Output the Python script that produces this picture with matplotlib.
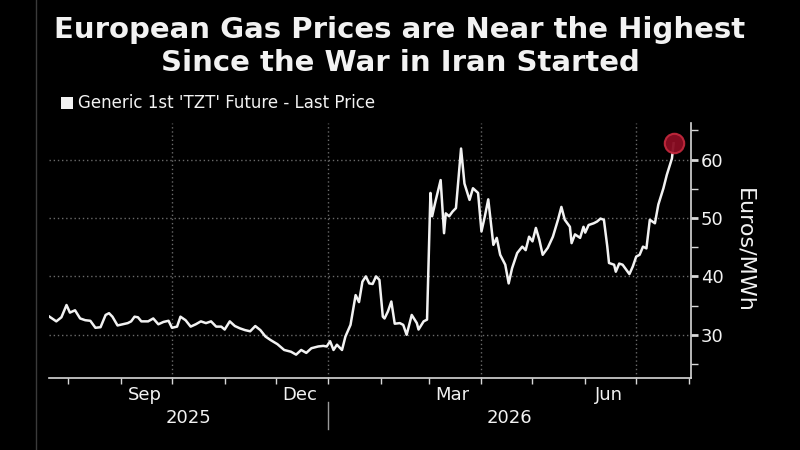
import matplotlib
matplotlib.use("Agg")
import matplotlib.pyplot as plt
import matplotlib.dates as mdates
import pandas as pd
from matplotlib.lines import Line2D

# ---- data ----
dates = [
    "2025-07-21", "2025-07-25", "2025-07-28", "2025-07-31", "2025-08-02", "2025-08-05",
    "2025-08-08", "2025-08-11", "2025-08-14", "2025-08-17", "2025-08-20", "2025-08-23",
    "2025-08-25", "2025-08-27", "2025-08-30", "2025-09-02", "2025-09-05", "2025-09-07",
    "2025-09-09", "2025-09-11", "2025-09-13", "2025-09-17", "2025-09-20", "2025-09-23",
    "2025-09-26", "2025-09-29", "2025-10-01", "2025-10-04", "2025-10-06", "2025-10-09",
    "2025-10-12", "2025-10-15", "2025-10-18", "2025-10-21", "2025-10-24", "2025-10-27",
    "2025-10-30", "2025-11-01", "2025-11-04", "2025-11-07", "2025-11-10", "2025-11-13",
    "2025-11-16", "2025-11-19", "2025-11-22", "2025-11-25", "2025-11-28", "2025-12-02",
    "2025-12-06", "2025-12-10", "2025-12-13", "2025-12-16", "2025-12-19", "2025-12-22",
    "2025-12-26", "2025-12-29", "2025-12-31", "2026-01-02", "2026-01-04", "2026-01-06",
    "2026-01-09", "2026-01-11", "2026-01-14", "2026-01-17", "2026-01-19", "2026-01-21",
    "2026-01-23", "2026-01-25", "2026-01-27", "2026-01-29", "2026-01-31", "2026-02-02",
    "2026-02-03", "2026-02-05", "2026-02-07", "2026-02-09", "2026-02-12", "2026-02-14",
    "2026-02-16", "2026-02-19", "2026-02-22", "2026-02-23", "2026-02-26", "2026-02-28",
    "2026-03-02", "2026-03-03", "2026-03-05", "2026-03-08", "2026-03-10", "2026-03-11",
    "2026-03-13", "2026-03-15", "2026-03-17", "2026-03-20", "2026-03-22", "2026-03-25",
    "2026-03-27", "2026-03-30", "2026-04-01", "2026-04-03", "2026-04-05", "2026-04-08",
    "2026-04-10", "2026-04-12", "2026-04-15", "2026-04-17", "2026-04-19", "2026-04-22",
    "2026-04-25", "2026-04-27", "2026-04-29", "2026-05-01", "2026-05-03", "2026-05-05",
    "2026-05-07", "2026-05-10", "2026-05-13", "2026-05-16", "2026-05-18", "2026-05-20",
    "2026-05-23", "2026-05-24", "2026-05-26", "2026-05-29", "2026-05-31", "2026-06-01",
    "2026-06-03", "2026-06-06", "2026-06-08", "2026-06-10", "2026-06-12", "2026-06-14",
    "2026-06-15", "2026-06-18", "2026-06-19", "2026-06-21", "2026-06-23", "2026-06-25",
    "2026-06-27", "2026-06-29", "2026-07-01", "2026-07-03", "2026-07-05", "2026-07-07",
    "2026-07-09", "2026-07-12", "2026-07-14", "2026-07-17", "2026-07-19", "2026-07-22",
    "2026-07-23",
]
prices = [
    33.1, 32.3, 33.0, 35.1, 33.8, 34.2,
    32.8, 32.5, 32.4, 31.2, 31.3, 33.4,
    33.7, 33.1, 31.6, 31.8, 32.0, 32.3,
    33.1, 33.0, 32.3, 32.3, 32.8, 31.8,
    32.2, 32.4, 31.2, 31.4, 33.1, 32.5,
    31.4, 31.8, 32.3, 32.0, 32.3, 31.4,
    31.4, 30.9, 32.3, 31.5, 31.1, 30.8,
    30.6, 31.5, 30.8, 29.7, 29.1, 28.4,
    27.4, 27.1, 26.6, 27.4, 26.9, 27.7,
    28.0, 28.1, 28.0, 28.9, 27.4, 28.3,
    27.4, 29.7, 31.7, 36.8, 35.6, 39.1,
    40.0, 38.8, 38.7, 40.0, 39.4, 33.1,
    32.8, 34.0, 35.7, 31.9, 32.0, 31.7,
    30.0, 33.4, 32.0, 30.9, 32.3, 32.6,
    54.3, 50.3, 52.9, 56.5, 47.4, 50.8,
    50.3, 51.1, 51.7, 61.9, 55.9, 53.1,
    55.1, 54.3, 47.7, 50.3, 53.2, 45.4,
    46.6, 43.7, 42.0, 38.8, 41.4, 44.0,
    45.1, 44.5, 46.8, 46.0, 48.3, 46.3,
    43.7, 44.9, 46.8, 49.7, 51.9, 49.7,
    48.5, 45.7, 47.2, 46.6, 48.5, 47.5,
    48.8, 49.1, 49.4, 49.9, 49.7, 45.1,
    42.3, 42.0, 40.8, 42.2, 42.0, 41.2,
    40.4, 41.7, 43.4, 43.7, 45.1, 44.8,
    49.7, 49.1, 52.3, 55.1, 57.4, 60.2,
    62.8,
]
month_labels = ["Sep", "Dec", "Mar", "Jun"]
month_label_dates = ["2025-09-15", "2025-12-15", "2026-03-15", "2026-06-15"]
year_labels = ["2025", "2026"]
y_ticks = [30, 40, 50, 60]
title = "European Gas Prices are Near the Highest\nSince the War in Iran Started"
legend_label = "Generic 1st 'TZT' Future - Last Price"
y_label = "Euros/MWh"

x = pd.to_datetime(dates)
fg = "#f2f2f2"
grid_c = "#6a6a6a"

fig = plt.figure(figsize=(8, 4.5), dpi=100, facecolor="black")
ax = fig.add_axes([0.061, 0.16, 0.803, 0.567])
ax.set_facecolor("black")

ax.plot(x, prices, color=fg, lw=1.8, solid_joinstyle="round", zorder=3)
ax.plot(x[-1:], prices[-1:], "o", ms=14, mfc="#8a0c22", mec="#c0283c",
        mew=1.5, alpha=0.95, zorder=4)

xmin = pd.Timestamp("2025-07-20 14:00")
xmax = pd.Timestamp("2026-08-02 08:00")
ax.set_xlim(xmin, xmax)
ax.set_ylim(22.6, 66.3)

# spines
for s in ["left", "top"]:
    ax.spines[s].set_visible(False)
for s in ["right", "bottom"]:
    ax.spines[s].set_color("#d8d8d8")
    ax.spines[s].set_linewidth(1.2)

# y axis
ax.yaxis.tick_right()
ax.set_yticks(y_ticks)
ax.set_yticks([25, 35, 45, 55, 65], minor=True)
ax.tick_params(axis="y", which="major", colors="#d8d8d8", length=5, width=2,
               labelsize=13, labelcolor=fg, pad=2)
ax.tick_params(axis="y", which="minor", colors="#d8d8d8", length=5, width=1)
ax.yaxis.set_label_position("right")
ax.set_ylabel(y_label, color=fg, fontsize=16, rotation=270, labelpad=22)

# x axis
ax.xaxis.set_major_locator(mdates.MonthLocator())
ax.xaxis.set_major_formatter(plt.NullFormatter())
ax.set_xticks(pd.to_datetime(month_label_dates), minor=True)
ax.set_xticklabels(month_labels, minor=True)
ax.tick_params(axis="x", which="major", colors="#d8d8d8", length=4, width=1)
ax.tick_params(axis="x", which="minor", length=0, labelsize=13,
               labelcolor=fg, pad=6)

# grid
ax.grid(axis="y", which="major", color=grid_c, ls=(0, (1, 2)), lw=1)
qgrid = pd.to_datetime(["2025-10-01", "2026-01-01", "2026-04-01", "2026-07-01"])
for q in qgrid:
    ax.axvline(q, color=grid_c, ls=(0, (1, 2)), lw=1, zorder=1)

# year labels
trans = ax.get_xaxis_transform()
y2026 = pd.Timestamp("2026-01-01")
mid25 = xmin + (y2026 - xmin) / 2
mid26 = y2026 + (xmax - y2026) / 2
ax.text(mid25, -0.155, year_labels[0], transform=trans, ha="center", va="center",
        color=fg, fontsize=13)
ax.text(mid26, -0.155, year_labels[1], transform=trans, ha="center", va="center",
        color=fg, fontsize=13)
ax.add_line(Line2D([y2026, y2026], [-0.095, -0.2], transform=trans,
                   color="#9a9a9a", lw=1, clip_on=False))

# title and legend
fig.text(0.5, 0.897, title, ha="center", va="center", color=fg, fontsize=21,
         fontweight="bold", linespacing=1.2)
fig.patches.append(plt.Rectangle((0.076, 0.757), 0.015, 0.027, transform=fig.transFigure,
                                 facecolor=fg, edgecolor="none"))
fig.text(0.097, 0.771, legend_label, ha="left", va="center", color=fg, fontsize=12)

# screen edge line
fig.add_artist(Line2D([0.045, 0.045], [0, 1], transform=fig.transFigure,
                      color="#3a3a3a", lw=1))

fig.savefig("out.png", dpi=100, facecolor="black")
